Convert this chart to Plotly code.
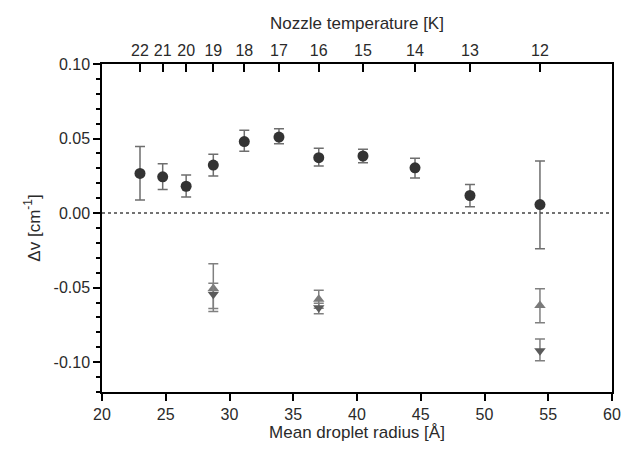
import plotly.graph_objects as go

# Mean droplet radius [Å] for each nozzle temperature
radius = [22.98, 24.76, 26.6, 28.73, 31.16, 33.88, 37.0, 40.47, 44.55, 48.86, 54.35]
temperature = ["22", "21", "20", "19", "18", "17", "16", "15", "14", "13", "12"]

# circles
circ_y = [0.0266, 0.0243, 0.018, 0.0322, 0.048, 0.051, 0.0372, 0.0383, 0.0304, 0.0118, 0.0057]
circ_up = [0.018, 0.0088, 0.0075, 0.0072, 0.0075, 0.0055, 0.0063, 0.0045, 0.0064, 0.0074, 0.0293]
circ_dn = [0.0178, 0.0085, 0.0072, 0.0074, 0.0065, 0.0045, 0.0056, 0.0045, 0.0068, 0.0075, 0.0297]

# up triangles
tri_up_x = [28.73, 37.0, 54.35]
tri_up_y = [-0.0505, -0.0578, -0.062]
tri_up_ep = [0.0165, 0.006, 0.0113]
tri_up_em = [0.0155, 0.006, 0.0116]

# down triangles
tri_dn_x = [28.73, 37.0, 54.35]
tri_dn_y = [-0.0545, -0.0635, -0.0923]
tri_dn_ep = [0.0075, 0.003, 0.0078]
tri_dn_em = [0.0095, 0.004, 0.0067]

x_ticks = [20, 25, 30, 35, 40, 45, 50, 55, 60]
y_ticks = [0.10, 0.05, 0.0, -0.05, -0.10]
y_labels = ["0.10", "0.05", "0.00", "-0.05", "-0.10"]

FONT = "Liberation Sans, Arial, sans-serif"
TXT = "#2a2a2a"

fig = go.Figure()
fig.add_trace(go.Scatter(
    x=tri_up_x, y=tri_up_y, mode="markers",
    marker=dict(symbol="triangle-up", size=10, color="#7a7a7a"),
    error_y=dict(type="data", array=tri_up_ep, arrayminus=tri_up_em,
                 color="#808080", thickness=1.5, width=5),
    showlegend=False))
fig.add_trace(go.Scatter(
    x=tri_dn_x, y=tri_dn_y, mode="markers",
    marker=dict(symbol="triangle-down", size=10, color="#5a5a5a"),
    error_y=dict(type="data", array=tri_dn_ep, arrayminus=tri_dn_em,
                 color="#808080", thickness=1.5, width=5),
    showlegend=False))
fig.add_trace(go.Scatter(
    x=radius, y=circ_y, mode="markers",
    marker=dict(symbol="circle", size=11, color="#333333"),
    error_y=dict(type="data", array=circ_up, arrayminus=circ_dn,
                 color="#6e6e6e", thickness=1.5, width=5),
    showlegend=False))
# invisible trace for top axis
fig.add_trace(go.Scatter(x=radius, y=circ_y, xaxis="x2", mode="markers",
                         marker=dict(opacity=0), hoverinfo="skip", showlegend=False))

fig.add_shape(type="line", xref="paper", yref="y", x0=0, x1=1, y0=0, y1=0,
              line=dict(color="#444444", width=1.5, dash="dot"))

fig.update_layout(
    width=622, height=450,
    margin=dict(l=102, r=10, t=64, b=58, autoexpand=False),
    paper_bgcolor="white", plot_bgcolor="white",
    font=dict(family=FONT, size=16, color=TXT),
    xaxis=dict(range=[20, 60], tickvals=x_ticks, automargin=False,
               ticklabeloverflow="allow",
               ticks="outside", ticklen=7, tickwidth=1.5, tickcolor="black",
               showline=True, linecolor="black", linewidth=1.5, mirror=True,
               showgrid=False, zeroline=False,
               title=dict(text="Mean droplet radius [Å]", standoff=4, font=dict(size=17))),
    xaxis2=dict(range=[20, 60], overlaying="x", side="top", tickvals=radius,
                ticktext=temperature, ticks="inside", ticklen=8, tickwidth=1.5,
                automargin=False, ticklabeloverflow="allow",
                tickcolor="black", showline=True, linecolor="black", linewidth=1.5,
                showgrid=False, zeroline=False,
                title=dict(text="Nozzle temperature [K]", standoff=8, font=dict(size=17))),
    yaxis=dict(range=[-0.12, 0.10], tickvals=y_ticks, ticktext=y_labels,
               automargin=False,
               ticks="outside", ticklen=7, tickwidth=1.5, tickcolor="black",
               minor=dict(dtick=0.01, tick0=0, ticks="outside", ticklen=4,
                          tickwidth=1.5, tickcolor="black", showgrid=False),
               showline=True, linecolor="black", linewidth=1.5, mirror=True,
               showgrid=False, zeroline=False,
               title=dict(text="Δv [cm<sup>-1</sup>]", standoff=9, font=dict(size=17))),
)

fig.write_html("out.html", config={"displayModeBar": False},
               post_script="document.body.style.margin='0';document.body.style.overflow='hidden';")
